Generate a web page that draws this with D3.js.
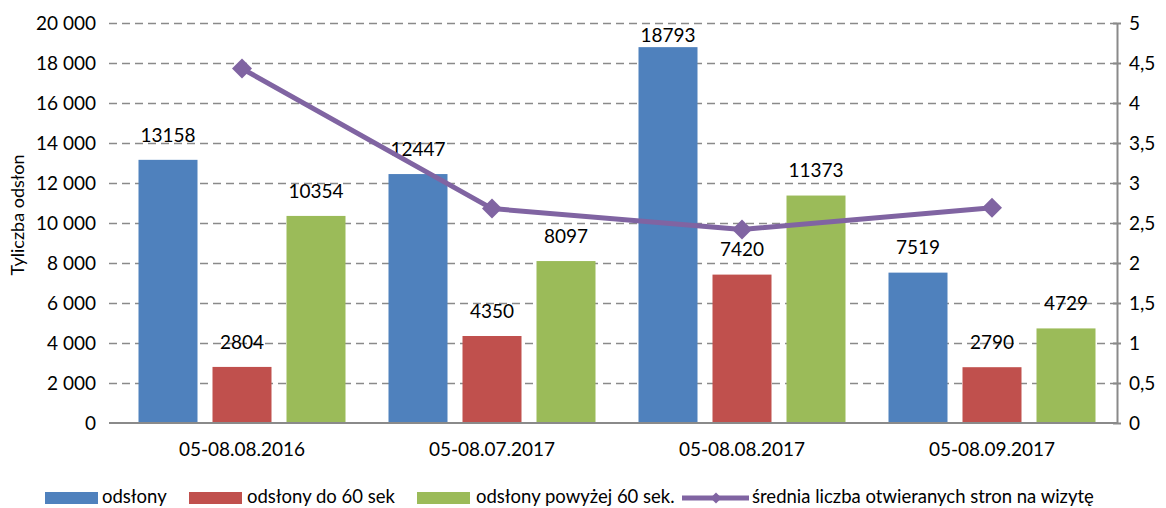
<!DOCTYPE html>
<html>
<head>
<meta charset="utf-8">
<script src="https://cdn.jsdelivr.net/npm/d3@7"></script>
<style>
  html, body { margin: 0; padding: 0; background: #fff; }
  svg text { font-family: Lato, "Open Sans", sans-serif; fill: #000; }
</style>
</head>
<body>
<svg id="chart" width="1166" height="508"></svg>
<script>
const categories = ["05-08.08.2016", "05-08.07.2017", "05-08.08.2017", "05-08.09.2017"];
const seriesNames = ["odsłony", "odsłony do 60 sek", "odsłony powyżej 60 sek.", "średnia liczba otwieranych stron na wizytę"];
const odslony = [13158, 12447, 18793, 7519];
const odslonyDo60 = [2804, 4350, 7420, 2790];
const odslonyPowyzej60 = [10354, 8097, 11373, 4729];
const sredniaLiczba = [4.43, 2.68, 2.42, 2.69];
const leftTicks = [0, 2000, 4000, 6000, 8000, 10000, 12000, 14000, 16000, 18000, 20000];
const rightTicks = [0, 0.5, 1, 1.5, 2, 2.5, 3, 3.5, 4, 4.5, 5];
const yTitle = "Tyliczba odsłon";

const barColors = ["#4F81BD", "#C0504D", "#9BBB59"];
const lineColor = "#8064A2";
const gridColor = "#8a8a8a";

const svg = d3.select("#chart");
const plot = { left: 117, right: 1117, top: 23, bottom: 423 };

const x = d3.scaleBand().domain(categories).range([plot.left, plot.right]).padding(0);
const xs = d3.scaleBand().domain([0, 1, 2]).range([0, x.bandwidth()])
  .paddingInner(15 / 74).paddingOuter(21.5 / 74);
const y = d3.scaleLinear().domain([0, 20000]).range([plot.bottom, plot.top]);
const y2 = d3.scaleLinear().domain([0, 5]).range([plot.bottom, plot.top]);

const fmtLeft = d => d3.format(",")(d).replace(/,/g, " ");
const fmtRight = d => String(d).replace(".", ",");

// gridlines
svg.append("g").selectAll("line").data(leftTicks.filter(d => d > 0)).join("line")
  .attr("x1", 109).attr("x2", plot.right)
  .attr("y1", d => Math.round(y(d)) + 0.5).attr("y2", d => Math.round(y(d)) + 0.5)
  .attr("stroke", gridColor).attr("stroke-width", 1.6).attr("stroke-dasharray", "8,5");

// left axis labels
const leftAxis = d3.axisLeft(y).tickValues(leftTicks).tickFormat(fmtLeft).tickSize(0).tickPadding(0);
const gl = svg.append("g").attr("transform", "translate(96,0)").call(leftAxis);
gl.select(".domain").remove();
gl.selectAll("text").style("font-size", "19px").attr("fill", "#000").attr("font-family", "Lato");

// right axis
const rightAxis = d3.axisRight(y2).tickValues(rightTicks).tickFormat(fmtRight).tickSize(0).tickPadding(12);
const gr = svg.append("g").attr("transform", `translate(${plot.right},0)`).call(rightAxis);
gr.select(".domain").attr("stroke", gridColor).attr("stroke-width", 2);
gr.selectAll("text").style("font-size", "19px").attr("fill", "#000").attr("font-family", "Lato");
gr.selectAll(".tick").append("line").attr("x1", -4).attr("x2", 4).attr("stroke", gridColor).attr("stroke-width", 2);

// bars
const seriesVals = [odslony, odslonyDo60, odslonyPowyzej60];
const barData = [];
seriesVals.forEach((vals, si) => vals.forEach((v, ci) => barData.push({ si, ci, v, cat: categories[ci] })));

svg.append("g").selectAll("rect").data(barData).join("rect")
  .attr("x", d => x(d.cat) + xs(d.si))
  .attr("width", xs.bandwidth())
  .attr("y", d => y(d.v))
  .attr("height", d => y(0) - y(d.v))
  .attr("fill", d => barColors[d.si]);

// bottom axis line
svg.append("line").attr("x1", 109).attr("x2", plot.right)
  .attr("y1", plot.bottom).attr("y2", plot.bottom)
  .attr("stroke", gridColor).attr("stroke-width", 2);

// x labels
const xAxis = d3.axisBottom(x).tickSize(0).tickPadding(0);
const gx = svg.append("g").attr("transform", `translate(0,${plot.bottom + 19})`).call(xAxis);
gx.select(".domain").remove();
gx.selectAll("text").style("font-size", "19px").attr("fill", "#000").attr("font-family", "Lato");

// bar labels
svg.append("g").selectAll("text").data(barData).join("text")
  .attr("x", d => x(d.cat) + xs(d.si) + xs.bandwidth() / 2)
  .attr("y", d => Math.max(y(d.v) - 25, 35))
  .attr("dy", "0.36em")
  .attr("text-anchor", "middle")
  .style("font-size", "19px")
  .text(d => d.v);

// line series
const linePts = sredniaLiczba.map((v, i) => [x(categories[i]) + x.bandwidth() / 2, y2(v)]);
svg.append("path").datum(linePts)
  .attr("d", d3.line())
  .attr("fill", "none").attr("stroke", lineColor).attr("stroke-width", 5)
  .attr("stroke-linejoin", "round");
svg.append("g").selectAll("path").data(linePts).join("path")
  .attr("transform", d => `translate(${d[0]},${d[1]}) rotate(45)`)
  .attr("d", d3.symbol().type(d3.symbolSquare).size(200))
  .attr("fill", lineColor);

// y title
svg.append("text")
  .attr("transform", "translate(24,215) rotate(-90)")
  .attr("text-anchor", "middle")
  .style("font-size", "18px")
  .text(yTitle);

// legend
const leg = svg.append("g");
const legendItems = [
  { type: "rect", color: barColors[0], sx: 45, tx: 102, name: seriesNames[0] },
  { type: "rect", color: barColors[1], sx: 189, tx: 247, name: seriesNames[1] },
  { type: "rect", color: barColors[2], sx: 417, tx: 476, name: seriesNames[2] },
  { type: "line", color: lineColor, sx: 682, tx: 752, name: seriesNames[3] }
];
legendItems.forEach(it => {
  if (it.type === "rect") {
    leg.append("rect").attr("x", it.sx).attr("y", 492).attr("width", 53).attr("height", 12).attr("fill", it.color);
  } else {
    leg.append("line").attr("x1", it.sx).attr("x2", it.sx + 67).attr("y1", 498).attr("y2", 498)
      .attr("stroke", it.color).attr("stroke-width", 5);
    leg.append("path").attr("transform", `translate(${it.sx + 34},498) rotate(45)`)
      .attr("d", d3.symbol().type(d3.symbolSquare).size(60)).attr("fill", it.color);
  }
  leg.append("text").attr("x", it.tx).attr("y", 496).attr("dy", "0.36em")
    .style("font-size", "18.5px").text(it.name);
});
</script>
</body>
</html>
